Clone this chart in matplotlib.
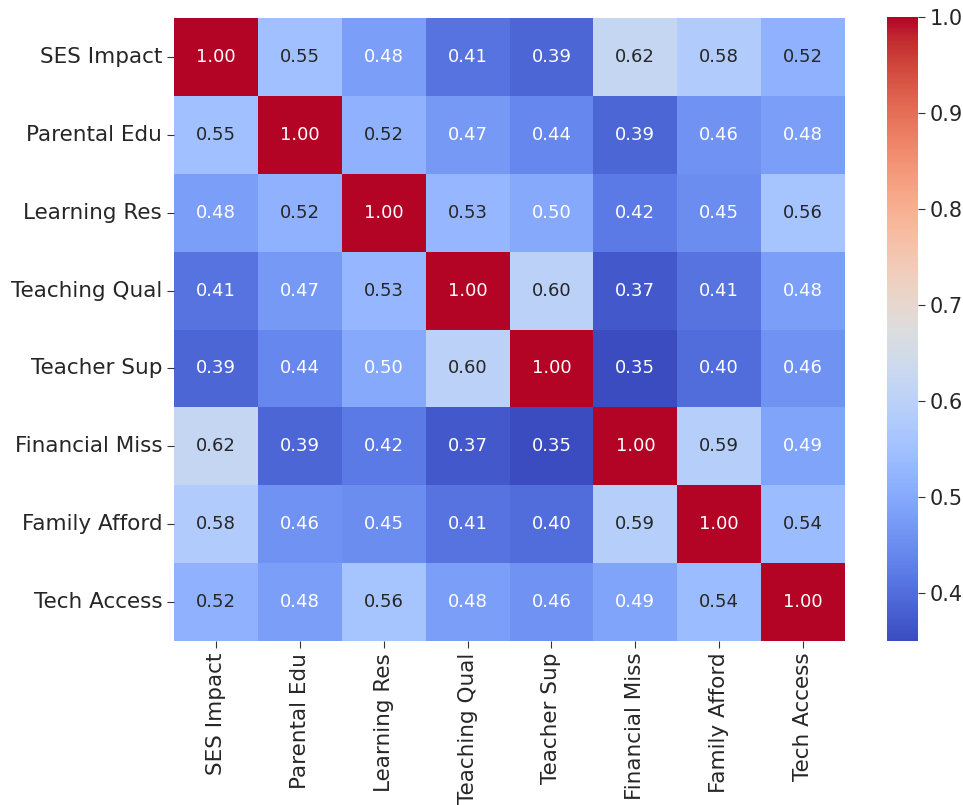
import numpy as np
import matplotlib
matplotlib.use("Agg")
import matplotlib.pyplot as plt
import seaborn as sns

labels = ["SES Impact", "Parental Edu", "Learning Res", "Teaching Qual",
          "Teacher Sup", "Financial Miss", "Family Afford", "Tech Access"]

corr = [
    [1.00, 0.55, 0.48, 0.41, 0.39, 0.62, 0.58, 0.52],
    [0.55, 1.00, 0.52, 0.47, 0.44, 0.39, 0.46, 0.48],
    [0.48, 0.52, 1.00, 0.53, 0.50, 0.42, 0.45, 0.56],
    [0.41, 0.47, 0.53, 1.00, 0.60, 0.37, 0.41, 0.48],
    [0.39, 0.44, 0.50, 0.60, 1.00, 0.35, 0.40, 0.46],
    [0.62, 0.39, 0.42, 0.37, 0.35, 1.00, 0.59, 0.49],
    [0.58, 0.46, 0.45, 0.41, 0.40, 0.59, 1.00, 0.54],
    [0.52, 0.48, 0.56, 0.48, 0.46, 0.49, 0.54, 1.00],
]

fig = plt.figure(figsize=(9.63, 8.05), dpi=100)
ax = fig.add_axes([174 / 963, 1 - 641 / 805, 671 / 963, 623 / 805])
cax = fig.add_axes([887 / 963, 1 - 641 / 805, 31 / 963, 624 / 805])

sns.heatmap(np.array(corr), annot=True, fmt=".2f", cmap="coolwarm",
            xticklabels=labels, yticklabels=labels, ax=ax, cbar_ax=cax,
            annot_kws={"size": 13})

ax.tick_params(axis="both", labelsize=15.5, length=5, colors="#333333")
ax.tick_params(axis="both", labelcolor="#262626")
plt.setp(ax.get_xticklabels(), rotation=90)
plt.setp(ax.get_yticklabels(), rotation=0)

cax.tick_params(labelsize=15, length=5, colors="#333333")
cax.tick_params(labelcolor="#262626")
cax.set_yticks([0.4, 0.5, 0.6, 0.7, 0.8, 0.9, 1.0])

fig.savefig("out.png", dpi=100)
